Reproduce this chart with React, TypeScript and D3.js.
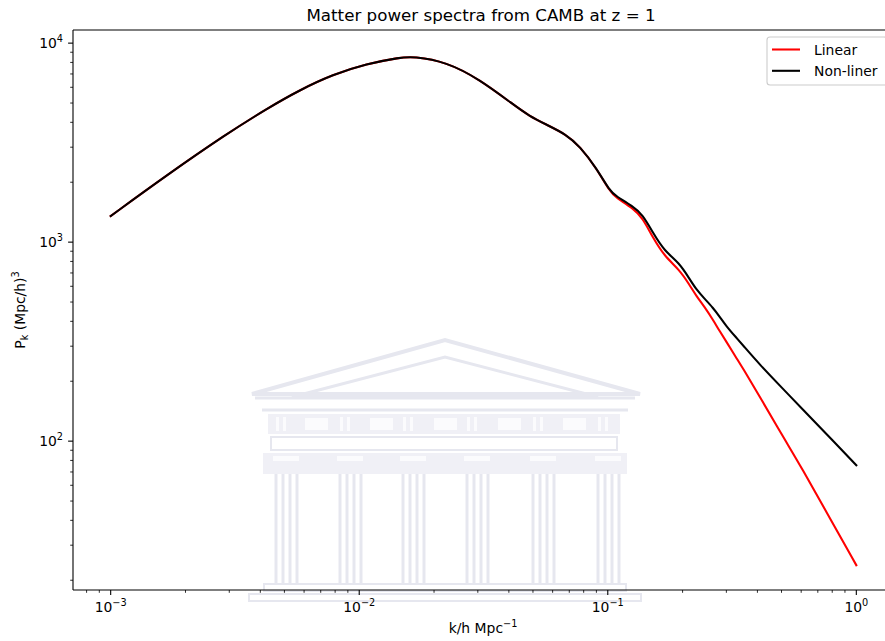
import React from "react";
import * as d3 from "d3";

// Wavenumbers k (h/Mpc)
const kValues = [
  0.001, 0.00168, 0.00292, 0.00424, 0.00577, 0.00783, 0.0107, 0.0146, 0.0165,
  0.0224, 0.0305, 0.0416, 0.0484, 0.0565, 0.0681, 0.0771, 0.0899, 0.102, 0.108,
  0.126, 0.138, 0.152, 0.169, 0.194, 0.213, 0.227, 0.245, 0.265, 0.282, 0.3,
  0.329, 0.35, 0.408, 0.501, 0.61, 0.757, 1.0,
];

// Linear matter power spectrum P(k) in (Mpc/h)^3
const linearP = [
  1352, 2168, 3491, 4677, 5821, 6950, 7870, 8472, 8570, 8054, 6577, 4920, 4295,
  3899, 3475, 3034, 2360, 1795, 1671, 1486, 1324, 1052, 851, 728, 612, 537, 473,
  407, 357, 316, 262, 232, 168, 108, 71.6, 44.2, 23.8,
];

// Non-linear matter power spectrum P(k) in (Mpc/h)^3
const nonLinearP = [
  1352, 2168, 3491, 4677, 5821, 6950, 7870, 8472, 8570, 8054, 6577, 4920, 4295,
  3899, 3475, 3034, 2362, 1803, 1702, 1517, 1377, 1114, 902, 787, 655, 578, 520,
  468, 422, 378, 331, 303, 243, 186, 144, 109, 75.7,
];

const xTickExps = [-3, -2, -1, 0];
const yTickExps = [2, 3, 4];

const seriesNames = ["Linear", "Non-liner"];
const seriesColors = ["#ff0000", "#000000"];

const W = 885;
const H = 641;
const left = 73;
const right = 894;
const top = 30;
const bottom = 590;
const FONT = "DejaVu Sans, sans-serif";
const FS = 13.9;

const x = d3.scaleLog().domain([Math.pow(10, -3.1516), Math.pow(10, 0.1516)]).range([left, right]);
const y = d3.scaleLog().domain([Math.pow(10, 1.252), Math.pow(10, 4.066)]).range([bottom, top]);

function minorTicks(scale: d3.ScaleLogarithmic<number, number>) {
  const [a, b] = scale.domain();
  const out: number[] = [];
  for (let e = Math.floor(Math.log10(a)); e <= Math.ceil(Math.log10(b)); e++) {
    for (let m = 2; m <= 9; m++) {
      const v = m * Math.pow(10, e);
      if (v >= a && v <= b) out.push(v);
    }
  }
  return out;
}

function Pow10({ e, ...rest }: { e: number } & React.SVGProps<SVGTextElement>) {
  const s = e < 0 ? "\u2212" + Math.abs(e) : String(e);
  return (
    <text {...rest}>
      10
      <tspan fontSize={FS * 0.7} dy={-FS * 0.42}>{s}</tspan>
    </text>
  );
}

// Faint temple emblem drawn behind the plot
function Emblem() {
  const c = "#e6e7ef";
  const f = "#f0f0f6";
  const hole = "#fbfbfd";
  const cols = [286, 350, 413, 477, 543, 608];
  return (
    <g>
      <polygon points="252,394 445,340 640,394" fill="none" stroke={c} strokeWidth={4} />
      <polygon points="292,397 445,357 598,397" fill="none" stroke={c} strokeWidth={3} />
      <line x1={255} x2={635} y1={398} y2={398} stroke={c} strokeWidth={3} />
      <line x1={262} x2={628} y1={410} y2={410} stroke={c} strokeWidth={3} />
      <rect x={268} y={414} width={352} height={20} fill={f} />
      {[305, 370, 434, 498, 563].map((mx) => (
        <rect key={mx} x={mx} y={418} width={23} height={12} fill={hole} />
      ))}
      {cols.map((cx) => (
        <g key={"s" + cx}>
          <rect x={cx - 10} y={417} width={3} height={14} fill={hole} />
          <rect x={cx - 3} y={417} width={3} height={14} fill={hole} />
        </g>
      ))}
      <rect x={271} y={437} width={346} height={13} fill="none" stroke={c} strokeWidth={2} />
      <rect x={263} y={453} width={364} height={21} fill={f} />
      {cols.map((cx) => (
        <rect key={"c" + cx} x={cx - 13} y={456} width={26} height={5} fill={hole} />
      ))}
      {cols.map((cx) => (
        <g key={"p" + cx} stroke={c} strokeWidth={3}>
          <line x1={cx - 10} x2={cx - 10} y1={474} y2={584} />
          <line x1={cx - 3} x2={cx - 3} y1={474} y2={584} />
          <line x1={cx + 4} x2={cx + 4} y1={474} y2={584} />
          <line x1={cx + 11} x2={cx + 11} y1={474} y2={584} />
        </g>
      ))}
      <rect x={264} y={584} width={362} height={7} fill="none" stroke={c} strokeWidth={2} />
      <rect x={249} y={594} width={392} height={7} fill="none" stroke={c} strokeWidth={2} />
    </g>
  );
}

export default function App() {
  const series = [linearP, nonLinearP];
  const line = d3
    .line<[number, number]>()
    .x((d) => x(d[0]))
    .y((d) => y(d[1]))
    .curve(d3.curveBasis);

  const xMinor = minorTicks(x);
  const yMinor = minorTicks(y);

  return (
    <svg
      width={W}
      height={H}
      style={{ position: "absolute", left: 0, top: 0, background: "#fff" }}
      fontFamily={FONT}
    >
      <rect width={W} height={H} fill="#fff" />
      <Emblem />

      {/* title */}
      <text x={481} y={21} textAnchor="middle" fontSize={16.7} fill="#000">
        Matter power spectra from CAMB at z = 1
      </text>

      {/* data */}
      {series.map((vals, i) => (
        <path
          key={i}
          d={line(kValues.map((k, j) => [k, vals[j]] as [number, number])) || ""}
          fill="none"
          stroke={seriesColors[i]}
          strokeWidth={2.08}
          strokeLinejoin="round"
          strokeLinecap="square"
        />
      ))}

      {/* spines */}
      <g stroke="#000" strokeWidth={1.1} fill="none">
        <line x1={left} x2={left} y1={top} y2={bottom} />
        <line x1={left} x2={right} y1={bottom} y2={bottom} />
        <line x1={left} x2={right} y1={top} y2={top} />
        <line x1={right} x2={right} y1={top} y2={bottom} />
      </g>

      {/* x ticks */}
      <g stroke="#000">
        {xTickExps.map((e) => (
          <line key={e} x1={x(Math.pow(10, e))} x2={x(Math.pow(10, e))} y1={bottom} y2={bottom + 4.9} strokeWidth={1.1} />
        ))}
        {xMinor.map((v) => (
          <line key={v} x1={x(v)} x2={x(v)} y1={bottom} y2={bottom + 2.8} strokeWidth={0.83} />
        ))}
      </g>
      {xTickExps.map((e) => (
        <Pow10 key={e} e={e} x={x(Math.pow(10, e))} y={611.5} textAnchor="middle" fontSize={FS} fill="#000" />
      ))}

      {/* y ticks */}
      <g stroke="#000">
        {yTickExps.map((e) => (
          <line key={e} x1={left - 4.9} x2={left} y1={y(Math.pow(10, e))} y2={y(Math.pow(10, e))} strokeWidth={1.1} />
        ))}
        {yMinor.map((v) => (
          <line key={v} x1={left - 2.8} x2={left} y1={y(v)} y2={y(v)} strokeWidth={0.83} />
        ))}
      </g>
      {yTickExps.map((e) => (
        <Pow10 key={e} e={e} x={63} y={y(Math.pow(10, e)) + 5} textAnchor="end" fontSize={FS} fill="#000" />
      ))}

      {/* axis labels */}
      <text x={483} y={633} textAnchor="middle" fontSize={FS} fill="#000">
        k/h Mpc
        <tspan fontSize={FS * 0.7} dy={-FS * 0.42}>{"\u22121"}</tspan>
      </text>
      <text transform={`translate(25,${(top + bottom) / 2}) rotate(-90)`} textAnchor="middle" fontSize={FS} fill="#000">
        P
        <tspan fontSize={FS * 0.7} dy={FS * 0.2}>k</tspan>
        <tspan dy={-FS * 0.2}> (Mpc/h)</tspan>
        <tspan fontSize={FS * 0.7} dy={-FS * 0.42}>3</tspan>
      </text>

      {/* legend */}
      <g>
        <rect x={767} y={37} width={120} height={48} rx={3} fill="#fff" fillOpacity={0.8} stroke="#cccccc" strokeWidth={1.1} />
        {seriesNames.map((n, i) => (
          <g key={n}>
            <line x1={772} x2={800} y1={49.5 + i * 21.3} y2={49.5 + i * 21.3} stroke={seriesColors[i]} strokeWidth={2.08} />
            <text x={814} y={54.5 + i * 21.3} fontSize={FS} fill="#000">{n}</text>
          </g>
        ))}
      </g>
    </svg>
  );
}
